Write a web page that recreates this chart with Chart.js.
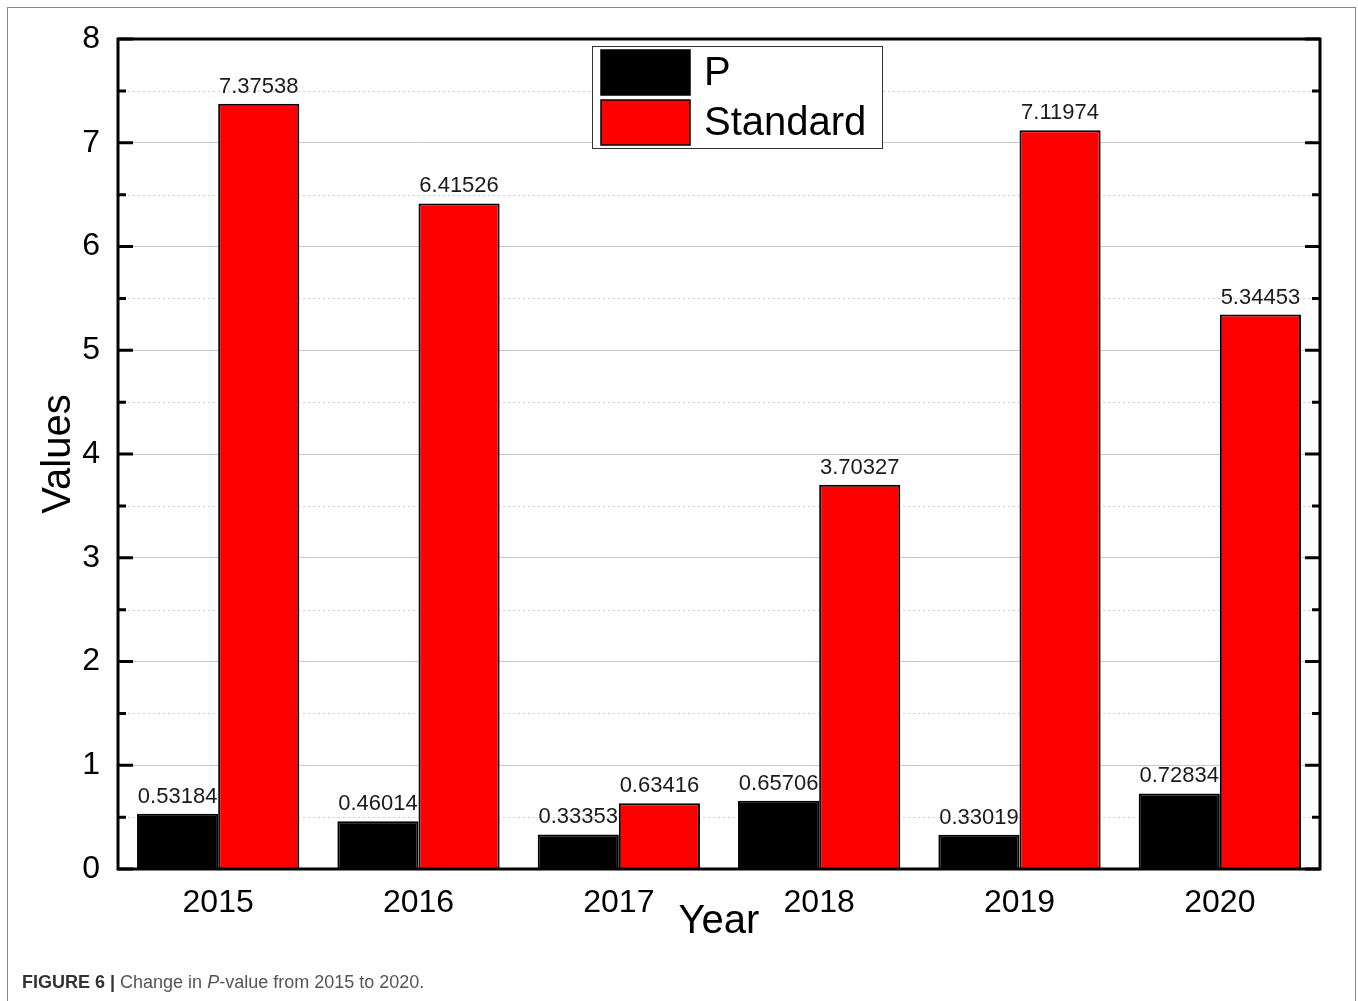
<!DOCTYPE html>
<html>
<head>
<meta charset="utf-8">
<title>P-value 2015-2020</title>
<script src="https://cdn.jsdelivr.net/npm/chart.js@4.4.1/dist/chart.umd.min.js"></script>
<style>
  html, body { margin: 0; padding: 0; background: #fff; overflow: hidden; }
  #wrap { position: relative; width: 1358px; height: 1001px; }
  #frame { position: absolute; left: 7px; top: 7px; width: 1349px; height: 1020px;
           border: 1.5px solid #8a8a8a; box-sizing: border-box; }
  #chart { position: absolute; left: 0; top: 0; }
  #caption { position: absolute; left: 22px; top: 972px; font: 18px "Liberation Sans", sans-serif; color: #555; white-space: nowrap; }
  #caption b { color: #333; }
</style>
</head>
<body>
<div id="wrap">
  <div id="frame"></div>
  <canvas id="chart" width="1358" height="1001"></canvas>
  <div id="caption"><b>FIGURE 6 |</b> Change in <i>P</i>-value from 2015 to 2020.</div>
</div>
<script>
// Data
const years = ["2015", "2016", "2017", "2018", "2019", "2020"];
const pValues = [0.53184, 0.46014, 0.33353, 0.65706, 0.33019, 0.72834];
const standardValues = [7.37538, 6.41526, 0.63416, 3.70327, 7.11974, 5.34453];
const seriesNames = ["P", "Standard"];
const seriesColors = ["#000000", "#ff0000"];

const FONT = '"Liberation Sans", Arial, sans-serif';

// Frame, inward ticks, dotted minor grid, value labels and legend box
const frameplugin = {
  id: "frameplugin",
  beforeDatasetsDraw(chart) {
    const { ctx, chartArea: a, scales: { y } } = chart;
    ctx.save();
    ctx.strokeStyle = "#cfcfcf";
    ctx.lineWidth = 1;
    ctx.setLineDash([2, 3]);
    for (let v = 0.5; v < y.max; v += 1) {
      const py = Math.round(y.getPixelForValue(v)) + 0.5;
      ctx.beginPath();
      ctx.moveTo(a.left, py);
      ctx.lineTo(a.right, py);
      ctx.stroke();
    }
    ctx.restore();
  },
  afterDatasetsDraw(chart) {
    const { ctx, chartArea: a, scales: { y } } = chart;
    ctx.save();

    // value labels over each bar
    ctx.font = "22px " + FONT;
    ctx.fillStyle = "#1a1a1a";
    ctx.textAlign = "center";
    ctx.textBaseline = "bottom";
    chart.data.datasets.forEach((ds, di) => {
      chart.getDatasetMeta(di).data.forEach((bar, i) => {
        ctx.fillText(String(ds.data[i]), bar.x, bar.y - 6);
      });
    });

    // axis box
    ctx.strokeStyle = "#000";
    ctx.lineWidth = 3;
    ctx.strokeRect(a.left, a.top, a.right - a.left, a.bottom - a.top);

    // major and minor ticks pointing inwards on both sides
    for (let v = 0; v <= y.max; v += 0.5) {
      const py = y.getPixelForValue(v);
      const len = Number.isInteger(v) ? 15 : 8;
      ctx.beginPath();
      ctx.moveTo(a.left, py);
      ctx.lineTo(a.left + len, py);
      ctx.moveTo(a.right, py);
      ctx.lineTo(a.right - len, py);
      ctx.stroke();
    }

    // legend
    const lx = 592, ly = 46, lw = 290, lh = 102;
    ctx.fillStyle = "#fff";
    ctx.fillRect(lx, ly, lw, lh);
    ctx.strokeStyle = "#333";
    ctx.lineWidth = 1;
    ctx.strokeRect(lx + 0.5, ly + 0.5, lw, lh);
    ctx.font = "40px " + FONT;
    ctx.textAlign = "left";
    ctx.textBaseline = "middle";
    chart.data.datasets.forEach((ds, di) => {
      const sy = ly + 4 + di * 50;
      ctx.fillStyle = ds.backgroundColor;
      ctx.fillRect(lx + 9, sy, 89, 45);
      ctx.strokeStyle = "#000";
      ctx.lineWidth = 1.5;
      ctx.strokeRect(lx + 9, sy, 89, 45);
      ctx.fillStyle = "#000";
      ctx.fillText(ds.label, lx + 112, sy + 24);
    });

    ctx.restore();
  }
};

new Chart(document.getElementById("chart"), {
  type: "bar",
  data: {
    labels: years,
    datasets: [
      {
        label: seriesNames[0],
        data: pValues,
        backgroundColor: seriesColors[0],
        borderColor: "#000",
        borderWidth: 2,
        categoryPercentage: 0.81,
        barPercentage: 1
      },
      {
        label: seriesNames[1],
        data: standardValues,
        backgroundColor: seriesColors[1],
        borderColor: "#000",
        borderWidth: 2,
        categoryPercentage: 0.81,
        barPercentage: 1
      }
    ]
  },
  options: {
    responsive: false,
    animation: false,
    layout: { padding: { left: 0, top: 39, right: 38, bottom: 52 } },
    plugins: {
      legend: { display: false },
      tooltip: { enabled: false }
    },
    scales: {
      x: {
        grid: { display: false },
        border: { display: false },
        ticks: { color: "#000", font: { family: FONT, size: 32 }, padding: 7 },
        title: {
          display: true,
          text: "Year",
          color: "#000",
          font: { family: FONT, size: 40 },
          padding: { top: 0, bottom: 3 }
        },
        afterFit(scale) { scale.height = 80; }
      },
      y: {
        min: 0,
        max: 8,
        grid: { color: "#c8c8c8", lineWidth: 1, drawTicks: false },
        border: { display: false },
        ticks: { stepSize: 1, color: "#000", font: { family: FONT, size: 32 }, padding: 18 },
        title: {
          display: true,
          text: "Values",
          color: "#000",
          font: { family: FONT, size: 40 },
          padding: { top: 35, bottom: 0 }
        },
        afterFit(scale) { scale.width = 118; }
      }
    }
  },
  plugins: [frameplugin]
});
</script>
</body>
</html>
